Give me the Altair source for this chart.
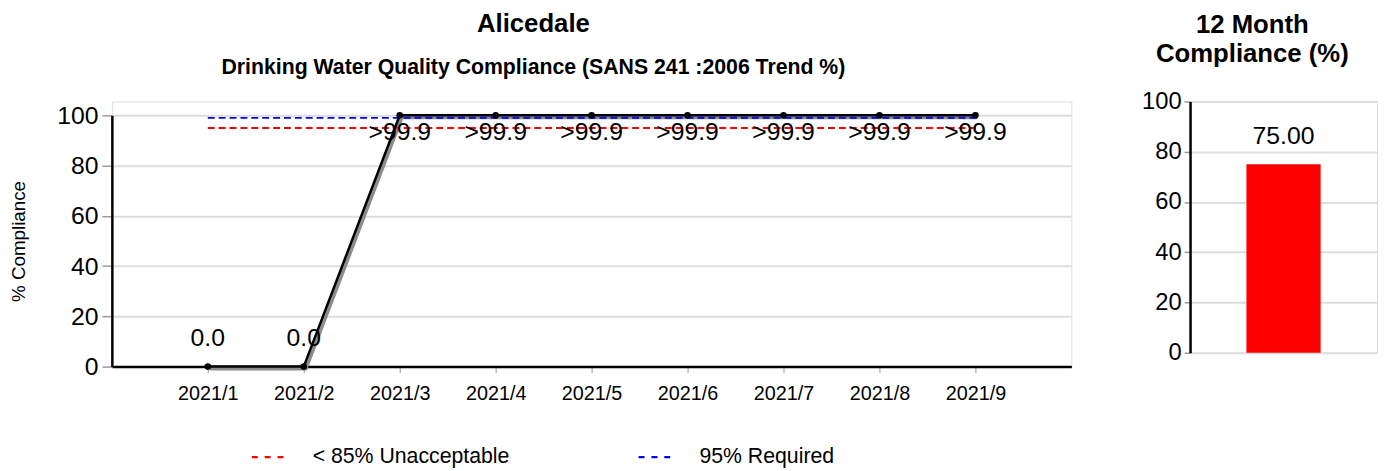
import altair as alt
import pandas as pd

FONT = "Liberation Sans"

# ---- data ----
months = ["2021/1", "2021/2", "2021/3", "2021/4", "2021/5", "2021/6", "2021/7", "2021/8", "2021/9"]
compliance = [0, 0, 100, 100, 100, 100, 100, 100, 100]
point_labels = ["0.0", "0.0", ">99.9", ">99.9", ">99.9", ">99.9", ">99.9", ">99.9", ">99.9"]
threshold_names = ["< 85% Unacceptable", "95% Required"]
threshold_values = [95, 99]
threshold_colors = ["#ff0000", "#0000ff"]
y_ticks = [0, 20, 40, 60, 80, 100]
annual_names = ["12 Month"]
annual_values = [75.0]

df = pd.DataFrame({"month": months, "value": compliance, "label": point_labels})
thr = pd.DataFrame(
    [{"month": m, "series": n, "value": v} for n, v in zip(threshold_names, threshold_values) for m in months]
)
bar_df = pd.DataFrame({"cat": annual_names, "value": annual_values})

# ---- left trend chart ----
xenc = alt.X(
    "month:O",
    sort=months,
    scale=alt.Scale(type="point", padding=1, domain=months),
    axis=alt.Axis(
        title=None, labelAngle=0, labelFontSize=20, labelFont=FONT, labelColor="black",
        tickSize=6, tickColor="#999999", tickWidth=1, labelPadding=11,
        domainColor="black", domainWidth=2.5, grid=False,
    ),
)
yscale = alt.Scale(domain=[0, 100], range=[268, 14], nice=False, zero=False)
yaxis = alt.Axis(
    title="% Compliance", values=y_ticks, titleFontSize=19, titleFont=FONT, titleFontWeight="normal",
    titleColor="black", titlePadding=29, labelFontSize=25, labelFont=FONT, labelColor="black",
    labelPadding=4, tickSize=10, tickColor="#999999", tickWidth=1.5,
    domainColor="black", domainWidth=2.5, gridColor="#dddddd", gridWidth=2,
)
yenc = alt.Y("value:Q", scale=yscale, axis=yaxis)

shadow = alt.Chart(df).mark_line(color="#8c8c8c", strokeWidth=4, xOffset=2, yOffset=2).encode(x=xenc, y=yenc)
thr_lines = alt.Chart(thr).mark_line(strokeDash=[7, 4], strokeWidth=2).encode(
    x=xenc,
    y=yenc,
    color=alt.Color(
        "series:N",
        scale=alt.Scale(domain=threshold_names, range=threshold_colors),
        legend=alt.Legend(
            title=None, orient="none", legendX=140, legendY=342, direction="horizontal",
            symbolType="stroke", symbolSize=1024, symbolDash=[6, 7], symbolStrokeWidth=2.5,
            labelFontSize=21.5, labelFont=FONT, labelColor="black", labelOffset=28,
            columnPadding=124, labelLimit=400, padding=0,
        ),
    ),
)
line = alt.Chart(df).mark_line(color="black", strokeWidth=2.5).encode(x=xenc, y=yenc)
pts = alt.Chart(df).mark_circle(color="black", size=45, opacity=1).encode(x=xenc, y=yenc)
lab_lo = alt.Chart(df).transform_filter("datum.value < 50").mark_text(
    dy=-29, fontSize=25, font=FONT, color="black"
).encode(x=xenc, y=yenc, text="label:N")
lab_hi = alt.Chart(df).transform_filter("datum.value >= 50").mark_text(
    dy=17, fontSize=25, font=FONT, color="black"
).encode(x=xenc, y=yenc, text="label:N")

left = alt.layer(shadow, thr_lines, line, pts, lab_lo, lab_hi).properties(
    width=970,
    height=268,
    title=alt.TitleParams(
        text="Alicedale",
        subtitle="Drinking Water Quality Compliance (SANS 241 :2006 Trend %)",
        fontSize=26, font=FONT, fontWeight="bold", color="black",
        subtitleFontSize=21.5, subtitleFont=FONT, subtitleFontWeight="bold", subtitleColor="black",
        subtitlePadding=21, offset=23, anchor="middle", frame="bounds", dx=-7,
    ),
)

# ---- right 12-month bar ----
rbase = alt.Chart(bar_df).encode(
    x=alt.X("cat:N", axis=None, scale=alt.Scale(paddingInner=0, paddingOuter=0)),
    y=alt.Y(
        "value:Q",
        scale=alt.Scale(domain=[0, 100], nice=False),
        axis=alt.Axis(
            title=None, values=y_ticks, labelFontSize=24, labelFont=FONT, labelColor="black",
            labelPadding=3, tickSize=6, tickColor="#999999", tickWidth=1.5,
            domainColor="black", domainWidth=2.5, gridColor="#dddddd", gridWidth=2,
        ),
    ),
)
rbar = rbase.mark_bar(size=75, color="#ff0000")
rtxt = rbase.mark_text(dy=-29, fontSize=25, font=FONT, color="black").encode(
    text=alt.Text("value:Q", format=".2f")
)
right = alt.layer(rbar, rtxt).properties(
    width=189,
    height=254,
    title=alt.TitleParams(
        text=["12 Month", "Compliance (%)"], fontSize=26, font=FONT, fontWeight="bold",
        color="black", lineHeight=29, offset=23, anchor="middle", frame="bounds", dx=-7,
    ),
)

chart = (
    alt.hconcat(left, right, spacing=69)
    .properties(padding={"left": 0, "top": 0, "right": 0, "bottom": 0})
    .configure_view(strokeWidth=0)
    .configure(font=FONT)
)

chart.save("out.html", embed_options={"renderer": "svg", "actions": False})
